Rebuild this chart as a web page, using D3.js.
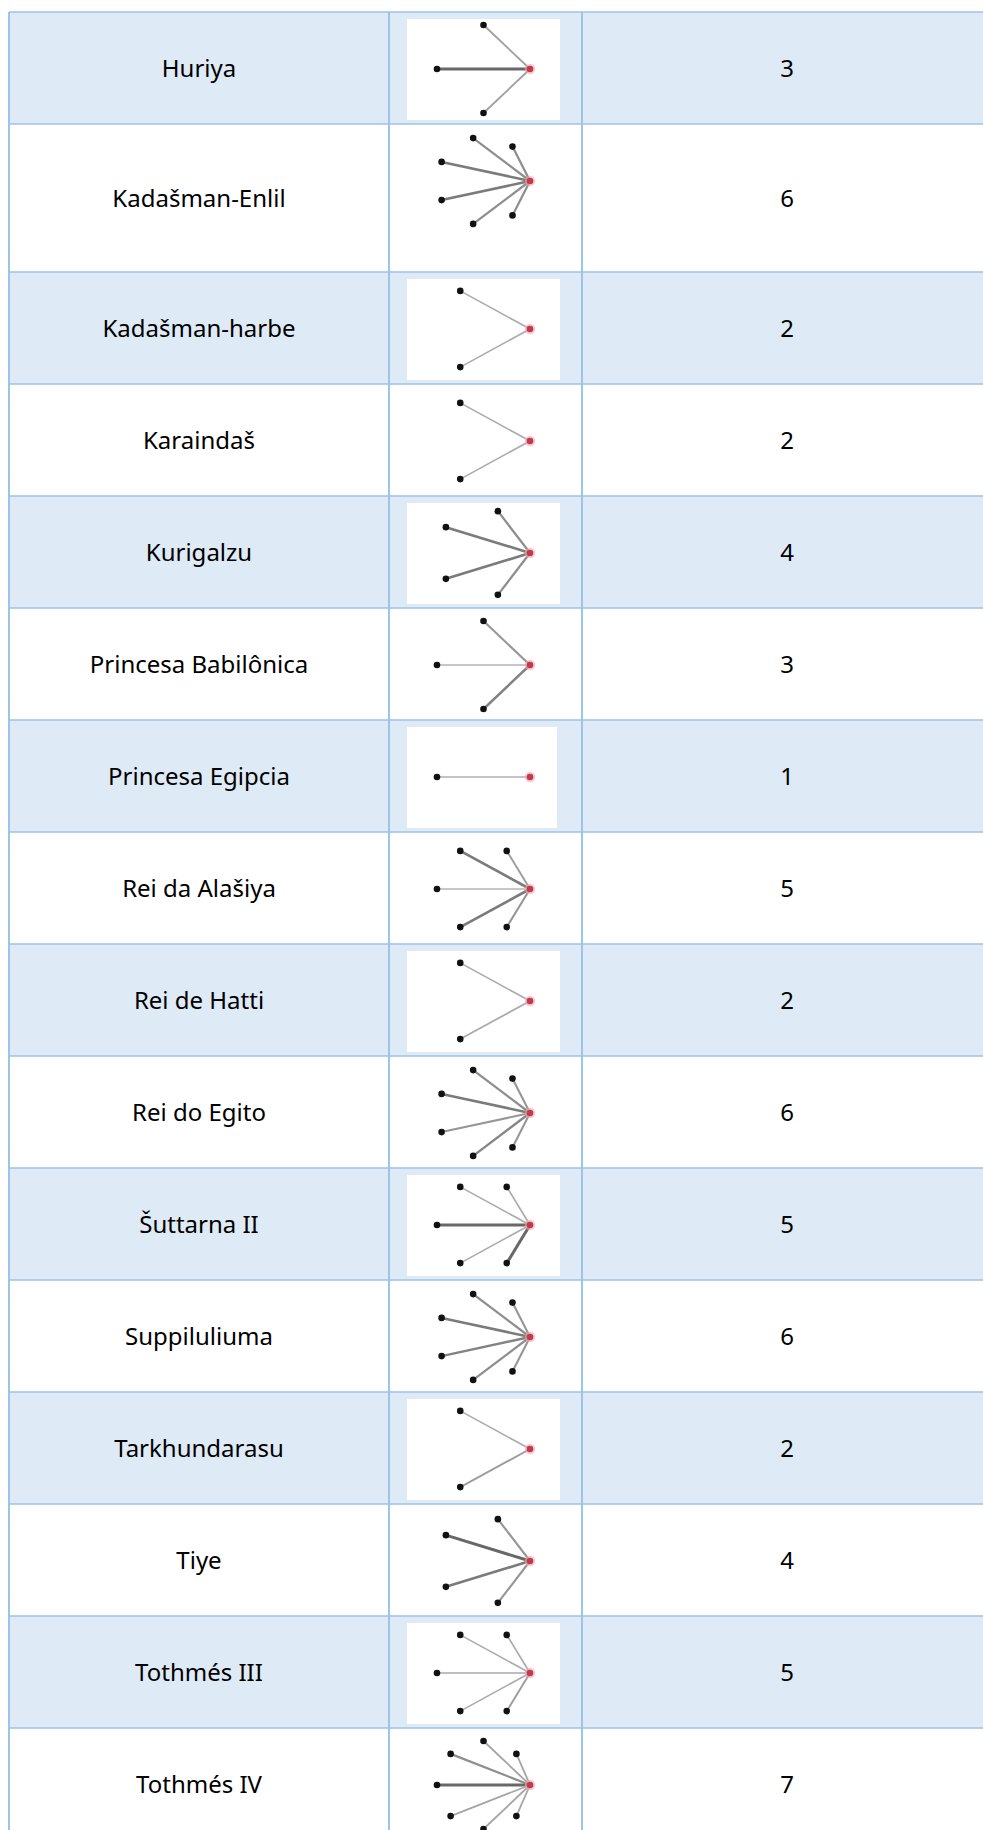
<!DOCTYPE html>
<html>
<head>
<meta charset="utf-8">
<script src="https://cdn.jsdelivr.net/npm/d3@7"></script>
<style>
  body { margin: 0; background: #fff; }
  text { font-family: "Noto Sans", sans-serif; }
</style>
</head>
<body>
<script>
// one row per person: name, number of links, and the link weights
let names = ['Huriya', 'Kadašman-Enlil', 'Kadašman-harbe', 'Karaindaš', 'Kurigalzu',
  'Princesa Babilônica', 'Princesa Egipcia', 'Rei da Alašiya', 'Rei de Hatti', 'Rei do Egito',
  'Šuttarna II', 'Suppiluliuma', 'Tarkhundarasu', 'Tiye', 'Tothmés III', 'Tothmés IV'];
let degrees = [3, 6, 2, 2, 4, 3, 1, 5, 2, 6, 5, 6, 2, 4, 5, 7];
// weights listed counter-clockwise starting just above the red node
let edgeWeights = [
  [1.5, 3, 1.5],
  [2, 2, 2.5, 2.5, 2, 2],
  [1.2, 1.2],
  [1.2, 1.2],
  [2, 2.5, 2.5, 2],
  [1.8, 1, 2.3],
  [1.1],
  [1.6, 2.5, 1, 2.5, 1.8],
  [1.2, 1.3],
  [1.8, 2, 2.5, 1.8, 2.2, 1.8],
  [1.2, 1.2, 3, 1.2, 3],
  [1.8, 2, 2.5, 2.3, 2, 1.8],
  [1.2, 1.6],
  [1.8, 3, 2.5, 1.8],
  [1.2, 1.2, 1.3, 1.2, 1.6],
  [1.4, 1.4, 2, 3, 1.4, 1.4, 1.4]
];

let width = 983;
let height = 1830;
let tableTop = 12;
let colX = [9, 389, 582, 992];
let rowH = 112;
let tallRow = 1;      // second row is taller in the reference
let tallH = 148;

let svg = d3.select('body').append('svg')
  .attr('width', width)
  .attr('height', height);

let rows = names.map((n, i) => ({ name: n, degree: degrees[i], weights: edgeWeights[i], i: i }));
let y = tableTop;
rows.forEach(r => {
  r.h = r.i === tallRow ? tallH : rowH;
  r.top = y;
  y += r.h;
});

// edge look by weight
let strokeW = d3.scaleLinear().domain([1, 3]).range([1.5, 3]);
let strokeC = d3.scaleLinear().domain([1, 3]).range(['#b4b4b4', '#686868']);

let rowG = svg.selectAll('g.row')
  .data(rows)
  .enter()
  .append('g')
  .attr('class', 'row')
  .attr('transform', d => 'translate(0,' + d.top + ')');

rowG.append('rect')
  .attr('x', colX[0])
  .attr('y', 0)
  .attr('width', colX[3] - colX[0])
  .attr('height', d => d.h)
  .attr('fill', d => d.i % 2 === 0 ? '#deeaf6' : '#ffffff');

// white picture box behind each little graph
rowG.append('rect')
  .attr('x', 407)
  .attr('y', 7)
  .attr('width', d => d.degree === 1 ? 150 : 153)
  .attr('height', d => d.h - 11)
  .attr('fill', '#ffffff');

let hubX = 530;
let hubDy = 57;
let rx = 46.5;
let ry = 44;

rowG.each(function(d) {
  let g = d3.select(this);
  let ang = d3.scaleLinear().domain([0, d.degree + 1]).range([0, 2 * Math.PI]);
  let cx = hubX - rx;
  let nodes = d.weights.map((w, k) => ({
    w: w,
    x: cx + rx * Math.cos(ang(k + 1)),
    y: hubDy - ry * Math.sin(ang(k + 1))
  }));
  g.selectAll('line.edge')
    .data(nodes)
    .enter()
    .append('line')
    .attr('class', 'edge')
    .attr('x1', hubX)
    .attr('y1', hubDy)
    .attr('x2', n => n.x)
    .attr('y2', n => n.y)
    .attr('stroke', n => strokeC(n.w))
    .attr('stroke-width', n => strokeW(n.w));
  g.selectAll('circle.node')
    .data(nodes)
    .enter()
    .append('circle')
    .attr('class', 'node')
    .attr('cx', n => n.x)
    .attr('cy', n => n.y)
    .attr('r', 3.3)
    .attr('fill', '#111');
  g.append('circle')
    .attr('cx', hubX)
    .attr('cy', hubDy)
    .attr('r', 5.2)
    .attr('fill', '#f3a9b4')
    .attr('opacity', 0.6);
  g.append('circle')
    .attr('cx', hubX)
    .attr('cy', hubDy)
    .attr('r', 3.3)
    .attr('fill', '#c23b4c');
});

let fontSize = 24;
rowG.append('text')
  .attr('x', (colX[0] + colX[1]) / 2)
  .attr('y', d => d.h / 2 + fontSize * 0.36)
  .attr('text-anchor', 'middle')
  .attr('font-size', fontSize)
  .attr('fill', '#000')
  .text(d => d.name);

rowG.append('text')
  .attr('x', (colX[2] + colX[3]) / 2)
  .attr('y', d => d.h / 2 + fontSize * 0.36)
  .attr('text-anchor', 'middle')
  .attr('font-size', fontSize)
  .attr('fill', '#000')
  .text(d => d.degree);

// table borders
let lineYs = rows.map(r => r.top).concat([y]);
svg.selectAll('line.hline')
  .data(lineYs)
  .enter()
  .append('line')
  .attr('x1', colX[0])
  .attr('x2', colX[3])
  .attr('y1', d => d)
  .attr('y2', d => d)
  .attr('stroke', '#9dc3e6')
  .attr('stroke-width', 1.6);

svg.selectAll('line.vline')
  .data(colX)
  .enter()
  .append('line')
  .attr('x1', d => d)
  .attr('x2', d => d)
  .attr('y1', tableTop)
  .attr('y2', y)
  .attr('stroke', '#9dc3e6')
  .attr('stroke-width', 2);
</script>
</body>
</html>
